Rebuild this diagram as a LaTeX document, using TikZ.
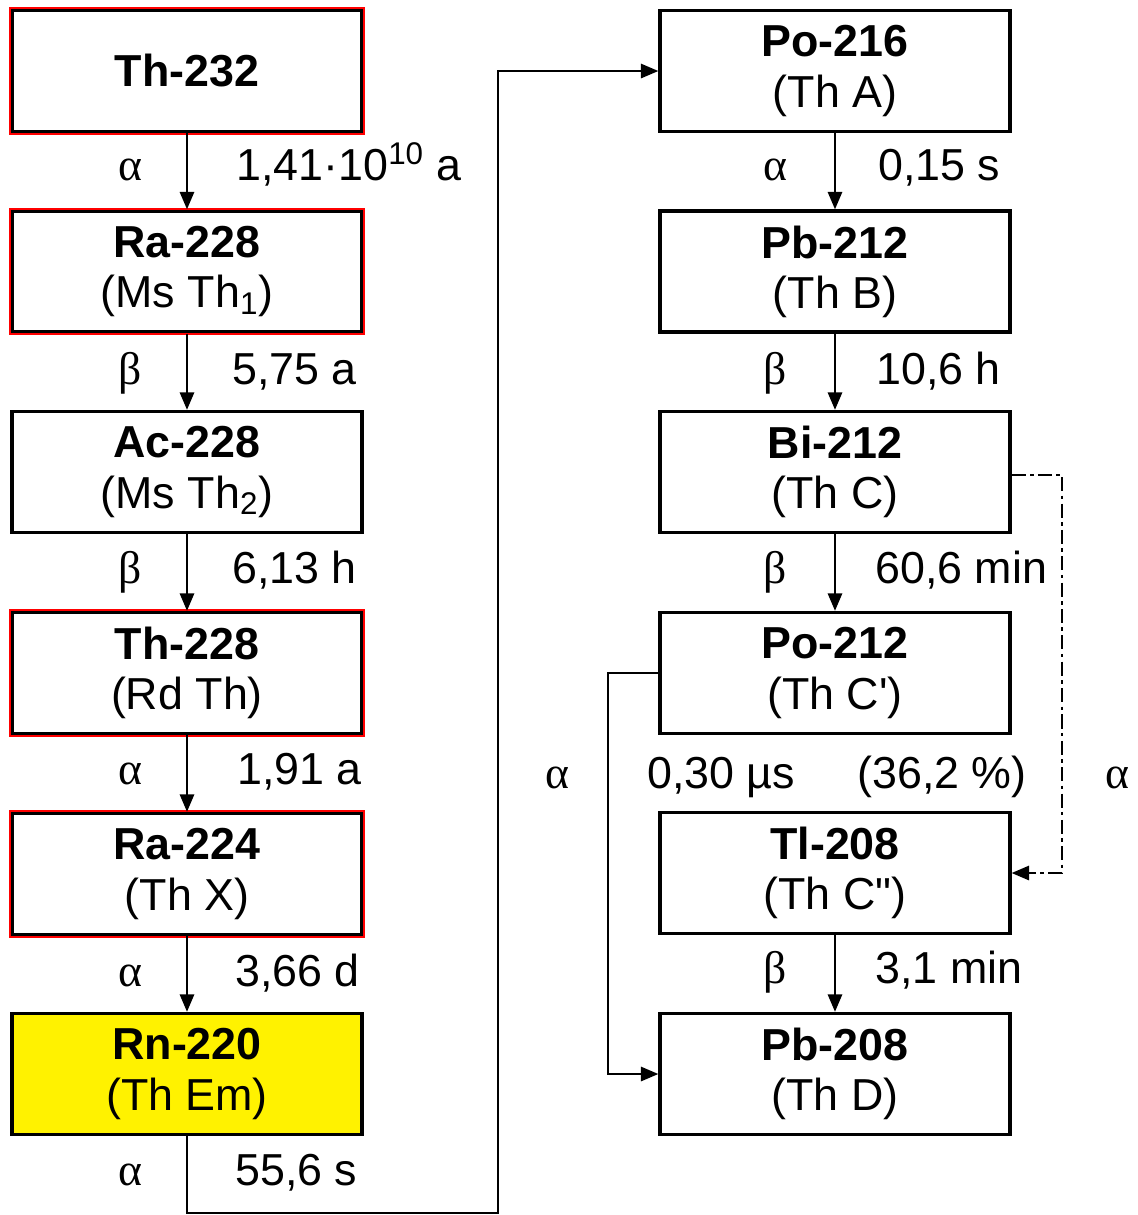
\documentclass[tikz,border=0pt]{standalone}
\usepackage{fontspec}
\setmainfont{Liberation Sans}
\newfontfamily\greekfont{Liberation Serif}
\usetikzlibrary{arrows.meta}

\begin{document}
\begin{tikzpicture}[x=0.02cm, y=-0.02cm,
  nuclide/.style={draw, line width=1.8pt, outer sep=0.9pt, minimum width=7cm, minimum height=2.42cm, align=center, inner sep=0pt,
    font=\fontsize{25.5}{28.5}\selectfont},
  decay/.style={-{Triangle[length=10pt, width=8pt]}, line width=1.6pt},
  branch/.style={decay, dash pattern=on 8pt off 2.5pt on 2pt off 2.5pt},
  mode/.style={anchor=base, font=\greekfont\fontsize{26}{30}\selectfont},
  halflife/.style={anchor=base west, inner sep=0pt, font=\fontsize{25.5}{30}\selectfont}]
\useasboundingbox (0,0) rectangle (1138,1215);
% left column
\node[nuclide] (th232) at (187,71) {\textbf{Th-232}};
\node[nuclide] (ra228) at (187,271.5) {\textbf{Ra-228}\\(Ms Th\textsubscript{1})};
\node[nuclide] (ac228) at (187,472) {\textbf{Ac-228}\\(Ms Th\textsubscript{2})};
\node[nuclide] (th228) at (187,673) {\textbf{Th-228}\\(Rd Th)};
\node[nuclide] (ra224) at (187,874) {\textbf{Ra-224}\\(Th X)};
\node[nuclide, fill=yellow] (rn220) at (187,1074) {\textbf{Rn-220}\\(Th Em)};
% right column
\node[nuclide] (po216) at (835,71) {\textbf{Po-216}\\(Th A)};
\node[nuclide] (pb212) at (835,271.5) {\textbf{Pb-212}\\(Th B)};
\node[nuclide] (bi212) at (835,472) {\textbf{Bi-212}\\(Th C)};
\node[nuclide] (po212) at (835,673) {\textbf{Po-212}\\(Th C\textquotesingle)};
\node[nuclide] (tl208) at (835,873) {\textbf{Tl-208}\\(Th C\textquotedbl)};
\node[nuclide] (pb208) at (835,1074) {\textbf{Pb-208}\\(Th D)};
% red frames of the thorium series members
\foreach \n in {th232,ra228,th228,ra224}
  \draw[red, line width=1pt] ([shift={(-0.45pt,0.45pt)}]\n.north west) rectangle ([shift={(0.45pt,-0.45pt)}]\n.south east);
% decays, left column
\draw[decay] (th232) -- (ra228);
\draw[decay] (ra228) -- (ac228);
\draw[decay] (ac228) -- (th228);
\draw[decay] (th228) -- (ra224);
\draw[decay] (ra224) -- (rn220);
\coordinate (rnlow) at (498,1213);
\draw[decay] (rn220.south) |- (rnlow) |- (po216.west);
% decays, right column
\draw[decay] (po216) -- (pb212);
\draw[decay] (pb212) -- (bi212);
\draw[decay] (bi212) -- (po212);
\draw[decay] (tl208) -- (pb208);
\coordinate (pobend) at (608,1074);
\draw[decay] (po212.west) -| (pobend) -- (pb208.west);
\coordinate (bibend) at (1062,475);
\draw[branch] (bi212.east |- bibend) -- (bibend) |- (tl208.east);
% labels
\node[mode] (m1) at (130,180) {α};
\node[halflife] (t1) at (236,180) {1,41·10\textsuperscript{10} a};
\node[mode] (m2) at (130,384) {β};
\node[halflife] (t2) at (232,384) {5,75 a};
\node[mode] (m3) at (130,583) {β};
\node[halflife] (t3) at (232,583) {6,13 h};
\node[mode] (m4) at (130,784) {α};
\node[halflife] (t4) at (237,784) {1,91 a};
\node[mode] (m5) at (130,986) {α};
\node[halflife] (t5) at (235,986) {3,66 d};
\node[mode] (m6) at (130,1185) {α};
\node[halflife] (t6) at (235,1185) {55,6 s};
\node[mode] (m7) at (775,180) {α};
\node[halflife] (t7) at (878,180) {0,15 s};
\node[mode] (m8) at (775,384) {β};
\node[halflife] (t8) at (876,384) {10,6 h};
\node[mode] (m9) at (775,583) {β};
\node[halflife] (t9) at (875,583) {60,6 min};
\node[mode] (m10) at (557,788) {α};
\node[halflife] (t10) at (647,788) {0,30 µs};
\node[halflife] (t11) at (857,788) {(36,2 \%)};
\node[mode] (m11) at (1117,788) {α};
\node[mode] (m12) at (775,983) {β};
\node[halflife] (t12) at (875,983) {3,1 min};
\end{tikzpicture}
\end{document}
